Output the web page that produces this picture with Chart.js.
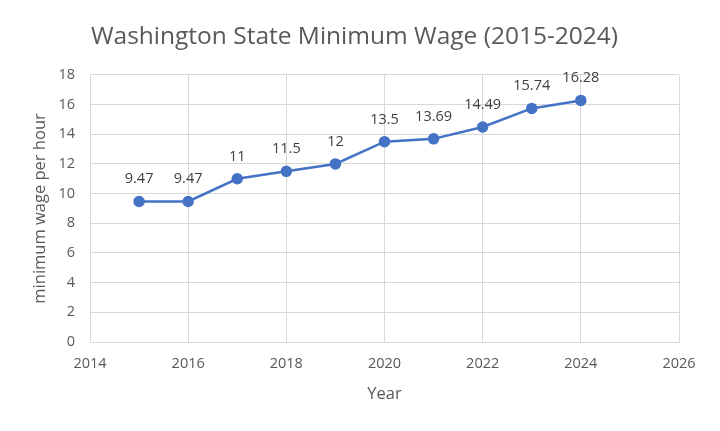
<!DOCTYPE html>
<html>
<head>
<meta charset="utf-8">
<script src="https://cdn.jsdelivr.net/npm/chart.js@4"></script>
<style>
  html, body { margin: 0; padding: 0; background: #fff; }
  #box { width: 720px; height: 431px; }
</style>
</head>
<body>
<div id="box"><canvas id="wageCanvas"></canvas></div>
<script>
/* 데이터 */
const years = [2015, 2016, 2017, 2018, 2019, 2020, 2021, 2022, 2023, 2024]
const wages = [9.47, 9.47, 11, 11.5, 12, 13.5, 13.69, 14.49, 15.74, 16.28]
const wageLabels = ['9.47', '9.47', '11', '11.5', '12', '13.5', '13.69', '14.49', '15.74', '16.28']
const xTicks = [2014, 2016, 2018, 2020, 2022, 2024, 2026]
const yTicks = [0, 2, 4, 6, 8, 10, 12, 14, 16, 18]

const FONT = "'Open Sans', sans-serif"
const GREY = '#595959'
const GRID = '#d9d9d9'

/* 점 위에 값 표시 */
const valueLabels = {
	id: 'valueLabels',
	afterDatasetsDraw(chart) {
		const ctx = chart.ctx
		const meta = chart.getDatasetMeta(0)
		ctx.save()
		ctx.font = '14.5px ' + FONT
		ctx.fillStyle = '#404040'
		ctx.textAlign = 'center'
		ctx.textBaseline = 'bottom'
		meta.data.forEach(function(pt, i){
			ctx.fillText(wageLabels[i], pt.x, pt.y - 15)
		})
		ctx.restore()
	}
}

new Chart(document.getElementById('wageCanvas'), {
	type: 'line'
	,data: {
		datasets: [{
			data: years.map(function(y, i){ return { x: y, y: wages[i] } })
			,borderColor: '#4472C4'
			,backgroundColor: '#4472C4'
			,borderWidth: 2.5
			,pointRadius: 4.5
			,pointHoverRadius: 4.5
			,tension: 0
		}]
	}
	,options: {
		responsive: true
		,maintainAspectRatio: false
		,animation: false
		,layout: { padding: { left: 30, right: 41, top: 0, bottom: 27 } }
		,plugins: {
			legend: { display: false }
			,tooltip: { enabled: false }
			,title: {
				display: true
				,text: 'Washington State Minimum Wage (2015-2024)'
				,color: GREY
				,font: { family: FONT, size: 24.5, weight: 'normal' }
				,padding: { top: 22, bottom: 23.5 }
			}
		}
		,scales: {
			x: {
				type: 'linear'
				,min: 2014
				,max: 2026
				,afterBuildTicks: function(scale){ scale.ticks = xTicks.map(function(v){ return { value: v } }) }
				,afterFit: function(scale){ scale.height = 62 }
				,ticks: {
					color: GREY
					,padding: 13
					,maxRotation: 0
					,font: { family: FONT, size: 14.5 }
					,callback: function(v){ return String(v) }
				}
				,grid: { color: GRID, lineWidth: 1, drawTicks: false }
				,border: { color: GRID }
				,title: {
					display: true
					,text: 'Year'
					,color: GREY
					,font: { family: FONT, size: 16.5 }
					,padding: { top: 0, bottom: 0 }
				}
			}
			,y: {
				min: 0
				,max: 18
				,afterBuildTicks: function(scale){ scale.ticks = yTicks.map(function(v){ return { value: v } }) }
				,afterFit: function(scale){ scale.width = 60 }
				,ticks: {
					color: GREY
					,padding: 15
					,font: { family: FONT, size: 14.5 }
				}
				,grid: { color: GRID, lineWidth: 1, drawTicks: false }
				,border: { color: GRID }
				,title: {
					display: true
					,text: 'minimum wage per hour'
					,color: GREY
					,font: { family: FONT, size: 16.5 }
					,padding: { top: 0, bottom: 0 }
				}
			}
		}
	}
	,plugins: [valueLabels]
})
</script>
</body>
</html>
